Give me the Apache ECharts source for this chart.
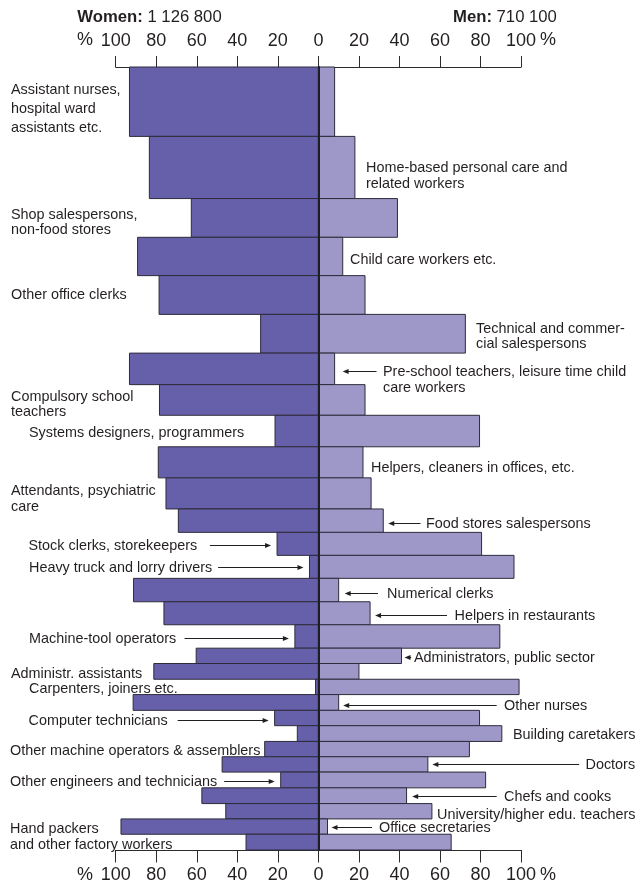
<!DOCTYPE html>
<html><head><meta charset="utf-8">
<script src="https://cdn.jsdelivr.net/npm/echarts@6/dist/echarts.min.js"></script>
<style>html,body{margin:0;padding:0;background:#fff}#chart{width:638px;height:882px}</style>
</head><body><div id="chart"></div>
<script>
// ---------------- data ----------------
const occupations = [
  "Assistant nurses,\nhospital ward\nassistants etc.",
  "Home-based personal care and\nrelated workers",
  "Shop salespersons,\nnon-food stores",
  "Child care workers etc.",
  "Other office clerks",
  "Technical and commer-\ncial salespersons",
  "Pre-school teachers, leisure time child\ncare workers",
  "Compulsory school\nteachers",
  "Systems designers, programmers",
  "Helpers, cleaners in offices, etc.",
  "Attendants, psychiatric\ncare",
  "Food stores salespersons",
  "Stock clerks, storekeepers",
  "Heavy truck and lorry drivers",
  "Numerical clerks",
  "Helpers in restaurants",
  "Machine-tool operators",
  "Administrators, public sector",
  "Administr. assistants",
  "Carpenters, joiners etc.",
  "Other nurses",
  "Computer technicians",
  "Building caretakers",
  "Other machine operators & assemblers",
  "Doctors",
  "Other engineers and technicians",
  "Chefs and cooks",
  "University/higher edu. teachers",
  "Office secretaries",
  "Hand packers\nand other factory workers"
];
const womenPct = [93.2, 83.4, 62.7, 89.2, 78.6, 28.5, 93.2, 78.4, 21.4, 79.0, 75.2, 69.1, 20.4, 4.4, 91.2,
                  76.2, 11.6, 60.3, 81.2, 1.4, 91.4, 21.6, 10.4, 26.5, 47.5, 18.6, 57.5, 45.7, 97.4, 35.7];
const menPct   = [8, 18, 39, 12, 23, 72.5, 8, 23, 79.5, 22, 26, 32, 80.5, 96.5, 10,
                  25.5, 89.5, 41, 20, 99, 10, 79.5, 90.5, 74.5, 54, 82.5, 43.5, 56, 4.5, 65.5];
// employed persons (thousands) -> bar thickness
const employedThousands = [163, 146, 91, 90, 91, 91, 74, 72, 74, 73, 73, 55, 54, 54, 55, 54, 55,
                           36, 37, 36, 37, 36, 37, 36, 36, 37, 37, 36, 36, 37];
const tickValues = [-100, -80, -60, -40, -20, 0, 20, 40, 60, 80, 100];
const womenTotal = "1 126 800";
const menTotal = "710 100";

// ---------------- layout (annotation placement only) ----------------
const labelLayout = [
  {side:'L', x:11,  dy:-12.7, lh:19},
  {side:'R', x:366, dy:-0.6},
  {side:'L', x:11,  dy:-4.7},
  {side:'R', x:350, dy:1.7},
  {side:'L', x:11,  dy:-1},
  {side:'R', x:476, dy:-6.4},
  {side:'R', x:383, dy:2,   arrow:true, head:8, tail:6.5},
  {side:'L', x:11,  dy:-4,  lh:15},
  {side:'L', x:29,  dy:0.6},
  {side:'R', x:371, dy:3.9},
  {side:'L', x:11,  dy:-3.8},
  {side:'R', x:426, dy:2.3, arrow:true, head:5, tail:5.5},
  {side:'L', x:28.5,dy:0.8, arrow:true, gap:12.7},
  {side:'L', x:29,  dy:0,   arrow:true, gap:6},
  {side:'R', x:387, dy:2.8, arrow:true, head:6, tail:9},
  {side:'R', x:454.5,dy:1.2,arrow:true, head:5, tail:7.5},
  {side:'L', x:29,  dy:1.3, arrow:true, gap:8.4},
  {side:'R', x:414, dy:1,   arrow:true, head:3, tail:2.8},
  {side:'L', x:11,  dy:0.9},
  {side:'L', x:29,  dy:0.4},
  {side:'R', x:504, dy:2.2, arrow:true, head:4.5, tail:7.3},
  {side:'L', x:28.5,dy:1.7, arrow:true, gap:10},
  {side:'R', x:513, dy:0.2},
  {side:'L', x:10,  dy:0.7},
  {side:'R', x:585.5,dy:-0.7,arrow:true, head:4.5, tail:6.4},
  {side:'L', x:10,  dy:0.5, arrow:true, gap:7},
  {side:'R', x:504, dy:0.2, arrow:true, head:5.6, tail:7.3},
  {side:'R', x:437, dy:2},
  {side:'R', x:379, dy:0,   arrow:true, head:4, tail:7},
  {side:'L', x:10,  dy:-14.2, lh:16}
];
const TEXT_SHIFT = 1.5;

const FONT = '"Liberation Sans", Arial, Helvetica, sans-serif';
const LABEL_SIZE = 14.4;
const TEXT_COLOR = '#231f20';
const WOMEN_COLOR = '#6660aa';
const MEN_COLOR = '#9e98c9';
const EDGE_COLOR = '#2e2b3a';

const measureCtx = document.createElement('canvas').getContext('2d');
measureCtx.font = LABEL_SIZE + 'px ' + FONT;
function textWidth(s) { return measureCtx.measureText(s).width; }

const rows = [];
let acc = 0;
employedThousands.forEach((v, i) => {
  rows.push([acc, acc + v, womenPct[i], menPct[i], i]);
  acc += v;
});
const total = acc;

function arrowHead(x, y, dir) {
  const L = 6, H = 2.6;
  return {type:'polygon', shape:{points:[[x, y], [x - dir * L, y - H], [x - dir * L, y + H]]},
          style:{fill:TEXT_COLOR}, z2: 5};
}

function renderItem(params, api) {
  const i = params.dataIndex;
  const y0 = api.value(0), y1 = api.value(1), w = api.value(2), m = api.value(3);
  const c0 = api.coord([0, y0]);
  const c1 = api.coord([0, y1]);
  const wl = api.coord([-w, y0])[0];
  const mr = api.coord([m, y0])[0];
  const top = c0[1], bot = c1[1], cx = c0[0];
  const mid = (top + bot) / 2;
  const children = [
    {type:'rect', shape:{x:wl, y:top, width:cx - wl, height:bot - top},
     style:{fill:WOMEN_COLOR, stroke:EDGE_COLOR, lineWidth:1}},
    {type:'rect', shape:{x:cx, y:top, width:mr - cx, height:bot - top},
     style:{fill:MEN_COLOR, stroke:EDGE_COLOR, lineWidth:1}}
  ];
  const lay = labelLayout[i];
  const lh = lay.lh || 15.6;
  const firstY = mid + lay.dy;
  const text = occupations[i];
  children.push({type:'text', z2:4, style:{
    text: text, x: lay.x, y: firstY - lh / 2 + TEXT_SHIFT, fill: TEXT_COLOR,
    fontSize: LABEL_SIZE, fontFamily: FONT, align:'left', verticalAlign:'top', lineHeight: lh
  }});
  if (lay.arrow) {
    const ay = Math.round(firstY + 0.5) + 0.5;
    if (lay.side === 'L') {
      const firstLine = text.split('\n')[0];
      const tailX = lay.x + textWidth(firstLine) + lay.gap;
      const headX = wl - 6;
      children.push({type:'line', shape:{x1:tailX, y1:ay, x2:headX - 3, y2:ay},
                     style:{stroke:TEXT_COLOR, lineWidth:1}});
      children.push(arrowHead(headX, ay, 1));
    } else {
      const headX = mr + lay.head;
      const tailX = lay.x - lay.tail;
      children.push({type:'line', shape:{x1:headX + 3, y1:ay, x2:tailX, y2:ay},
                     style:{stroke:TEXT_COLOR, lineWidth:1}});
      children.push(arrowHead(headX, ay, -1));
    }
  }
  return {type:'group', children};
}

const chart = echarts.init(document.getElementById('chart'), null, {renderer:'canvas'});
const axisCommon = {
  type:'value', min:-100, max:100, interval:20,
  splitLine:{show:false},
  axisLine:{show:true, onZero:false, lineStyle:{color:'#2b2b2b', width:1}},
  axisTick:{show:true, inside:false, lineStyle:{color:'#2b2b2b', width:1}},
  axisLabel:{formatter: v => String(Math.abs(v)), color:TEXT_COLOR, fontSize:18, fontFamily:FONT,
             showMinLabel:true, showMaxLabel:true, hideOverlap:false}
};
chart.setOption({
  animation:false,
  backgroundColor:'#fff',
  grid:{left:115.7, width:405.4, top:67, height:783, outerBoundsMode:'none', containLabel:false},
  xAxis:[
    Object.assign({}, axisCommon, {position:'top',
      axisTick:Object.assign({}, axisCommon.axisTick, {length:11}),
      axisLabel:Object.assign({}, axisCommon.axisLabel, {margin:17})}),
    Object.assign({}, axisCommon, {position:'bottom',
      axisTick:Object.assign({}, axisCommon.axisTick, {length:12.5}),
      axisLabel:Object.assign({}, axisCommon.axisLabel, {margin:16})})
  ],
  yAxis:{type:'value', inverse:true, min:0, max:total, z:10,
    splitLine:{show:false}, axisTick:{show:false}, axisLabel:{show:false},
    axisLine:{show:true, onZero:true, onZeroAxisIndex:0, lineStyle:{color:'#1e1e24', width:2}}},
  graphic:[
    {type:'text', x:77.3, y:17.8, style:{text:'{b|Women:} ' + womenTotal, fill:TEXT_COLOR,
      fontSize:16.7, fontFamily:FONT, verticalAlign:'middle',
      rich:{b:{fontWeight:'bold', fontSize:16.7, fontFamily:FONT, fill:TEXT_COLOR}}}},
    {type:'text', x:453, y:17.8, style:{text:'{b|Men:} ' + menTotal, fill:TEXT_COLOR,
      fontSize:16.7, fontFamily:FONT, verticalAlign:'middle',
      rich:{b:{fontWeight:'bold', fontSize:16.7, fontFamily:FONT, fill:TEXT_COLOR}}}},
    {type:'text', x:85, y:40.5, style:{text:'%', fill:TEXT_COLOR, fontSize:18, fontFamily:FONT, align:'center', verticalAlign:'middle'}},
    {type:'text', x:548, y:40.5, style:{text:'%', fill:TEXT_COLOR, fontSize:18, fontFamily:FONT, align:'center', verticalAlign:'middle'}},
    {type:'text', x:85, y:875.3, style:{text:'%', fill:TEXT_COLOR, fontSize:18, fontFamily:FONT, align:'center', verticalAlign:'middle'}},
    {type:'text', x:548, y:875.3, style:{text:'%', fill:TEXT_COLOR, fontSize:18, fontFamily:FONT, align:'center', verticalAlign:'middle'}}
  ],
  series:[{
    type:'custom', clip:false, xAxisIndex:0, yAxisIndex:0,
    renderItem: renderItem,
    encode:{x:[2,3], y:[0,1]},
    data: rows
  }]
});
</script></body></html>
